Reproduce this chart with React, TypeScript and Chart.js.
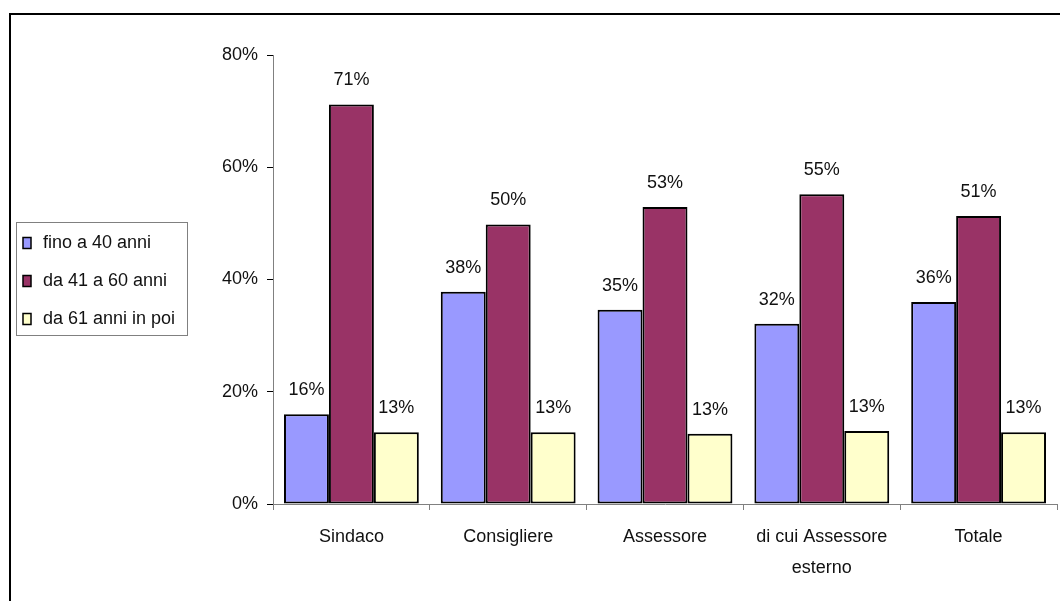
import React, { useEffect, useRef } from "react";
import { Chart, registerables } from "chart.js";

Chart.register(...registerables);

const categories: (string | string[])[] = [
  "Sindaco",
  "Consigliere",
  "Assessore",
  ["di cui Assessore", "esterno"],
  "Totale",
];
const seriesNames = ["fino a 40 anni", "da 41 a 60 anni", "da 61 anni in poi"];
const fino40 = [16.0, 37.8, 34.6, 32.1, 36.0];
const da41a60 = [71.2, 49.8, 52.9, 55.2, 51.3];
const da61 = [12.8, 12.8, 12.5, 13.0, 12.8];
const colors = ["#9999FF", "#993366", "#FFFFCC"];
const yTicks = [0, 20, 40, 60, 80];

const FONT = "'Liberation Sans', Arial, sans-serif";

const framePlugin = {
  id: "frameAndLegend",
  afterDraw(chart: any) {
    const ctx = chart.ctx;
    ctx.save();
    // outer frame
    ctx.strokeStyle = "#000";
    ctx.lineWidth = 2;
    ctx.strokeRect(10, 14, 1200, 800);
    // legend box
    ctx.strokeStyle = "#808080";
    ctx.lineWidth = 1;
    ctx.strokeRect(16.5, 222.5, 171, 113);
    const ys = [243, 281, 319];
    ctx.font = `18px ${FONT}`;
    ctx.textBaseline = "middle";
    ctx.textAlign = "left";
    seriesNames.forEach((name, i) => {
      const y = ys[i];
      ctx.fillStyle = colors[i];
      ctx.fillRect(23, y - 5.5, 8, 11);
      ctx.strokeStyle = "#000";
      ctx.lineWidth = 1.5;
      ctx.strokeRect(23, y - 5.5, 8, 11);
      ctx.fillStyle = "#111";
      ctx.fillText(name, 43, y);
    });
    ctx.restore();
  },
};

const labelPlugin = {
  id: "valueLabels",
  afterDatasetsDraw(chart: any) {
    const ctx = chart.ctx;
    ctx.save();
    ctx.font = `18px ${FONT}`;
    ctx.fillStyle = "#111";
    ctx.textAlign = "center";
    ctx.textBaseline = "alphabetic";
    chart.data.datasets.forEach((ds: any, di: number) => {
      const meta = chart.getDatasetMeta(di);
      meta.data.forEach((el: any, i: number) => {
        const v = ds.data[i];
        ctx.fillText(`${Math.round(v)}%`, el.x, el.y - 19);
      });
    });
    ctx.restore();
  },
};

export default function App() {
  const ref = useRef<HTMLCanvasElement>(null);
  useEffect(() => {
    if (!ref.current) return;
    const chart = new Chart(ref.current, {
      type: "bar",
      data: {
        labels: categories,
        datasets: [fino40, da41a60, da61].map((d, i) => ({
          label: seriesNames[i],
          data: d,
          backgroundColor: colors[i],
          borderColor: "#000",
          borderWidth: 2,
          borderSkipped: false,
          categoryPercentage: 0.86,
          barPercentage: 1,
        })),
      },
      options: {
        responsive: false,
        animation: false,
        devicePixelRatio: 1,
        layout: { padding: { left: 0, top: 55, right: 3, bottom: 0 } },
        plugins: {
          legend: { display: false },
          tooltip: { enabled: false },
          title: { display: false },
        },
        scales: {
          x: {
            offset: true,
            grid: {
              offset: true,
              drawOnChartArea: false,
              drawTicks: true,
              tickLength: 6,
              color: "#808080",
            },
            border: { color: "#808080", width: 1 },
            ticks: {
              color: "#111",
              font: { family: FONT, size: 18, lineHeight: 1.7 },
              padding: 12,
              maxRotation: 0,
              autoSkip: false,
            },
            afterFit(scale: any) {
              scale.height = 97;
            },
          },
          y: {
            min: 0,
            max: 80,
            afterBuildTicks(scale: any) {
              scale.ticks = yTicks.map((v) => ({ value: v }));
            },
            grid: {
              drawOnChartArea: false,
              drawTicks: true,
              tickLength: 6,
              color: "#000",
            },
            border: { color: "#808080", width: 1 },
            ticks: {
              color: "#111",
              font: { family: FONT, size: 18 },
              padding: 9,
              callback: (v: any) => `${v}%`,
            },
            afterFit(scale: any) {
              scale.width = 273;
            },
          },
        },
      },
      plugins: [labelPlugin, framePlugin],
    });
    return () => chart.destroy();
  }, []);
  return (
    <div style={{ position: "absolute", left: 0, top: 0, width: 1060, height: 601, background: "#fff" }}>
      <canvas ref={ref} width={1060} height={601} style={{ display: "block" }} />
    </div>
  );
}
